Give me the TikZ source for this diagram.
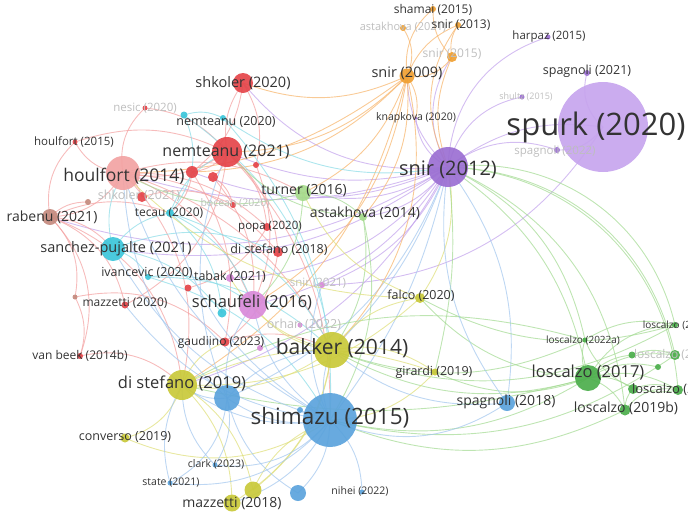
\documentclass[tikz,border=0pt]{standalone}
\usepackage{fontspec}
\setmainfont{Open Sans}

\definecolor{labgray}{HTML}{333333}
\definecolor{faintgray}{HTML}{BEBEBE}
\definecolor{cred}{HTML}{E5454A}
\definecolor{cpink}{HTML}{F2A3A3}
\definecolor{cbrown}{HTML}{C48A7E}
\definecolor{ccyan}{HTML}{3CC6DA}
\definecolor{cpurple}{HTML}{9B6FD2}
\definecolor{clilac}{HTML}{C7A5EE}
\definecolor{corchid}{HTML}{D98AD9}
\definecolor{corange}{HTML}{F0A032}
\definecolor{cgreen}{HTML}{4CAE4C}
\definecolor{clgreen}{HTML}{A6DB8C}
\definecolor{cyellow}{HTML}{C9C93A}
\definecolor{cblue}{HTML}{5BA3DC}
% edge colours
\definecolor{ered}{HTML}{F3A0A0}
\definecolor{ecyan}{HTML}{8ADBE6}
\definecolor{epurple}{HTML}{C2A2EC}
\definecolor{eorange}{HTML}{F7B46A}
\definecolor{egreen}{HTML}{A3DA92}
\definecolor{eyellow}{HTML}{DEDE78}
\definecolor{eblue}{HTML}{A2C6EE}

\begin{document}
\begin{tikzpicture}[x=1pt, y=-1pt,
    edge/.style={draw=#1, line width=0.9pt, opacity=0.7},
    lab/.style={text=labgray, inner sep=0pt},
    faint/.style={text=faintgray, inner sep=0pt},
    fs/.style={font=\fontsize{#1}{#1}\selectfont}]

    \useasboundingbox (0,0) rectangle (688,515);
    \clip (0,0) rectangle (688,515);

    % Points
    \foreach \n/\x/\y in {
        shamai/433/9, astak21/403/28, snir13/458/25, snir15/452/57,
        snir09/407/76, harpaz/548/37, spag21/587/73, shultz/522/97,
        knap/416/118, spurk/603/127, spag22/557/150, snir12/448/167,
        shk20/243/83, nesic/145/108, cyanA/184/115, nem20/223/118,
        houl15/75/142, nem21/227/152, redA/192/172, redB/213/177,
        redC/256/165, houl14/123/173, shk21/142/197, brownA/88/202,
        turner/303/193, bocean/233/205, rabenu/50/217, tecau/170/213,
        astak14/363/217, popa/267/227, sanchez/113/249, distef18/278/252,
        ivan/148/277, tabak/230/278, snir21/322/285, redD/188/288,
        greyA/75/297, maz20/125/305, schauf/253/305, cyanB/222/313,
        orhan/300/325, gaud/225/342, pinkA/260/348, bakker/332/350,
        vanbeek/80/356, distef19/182/385, blueA/227/398, shimazu/330/420,
        blueB/300/410, converso/125/438, clark/215/465, state/170/483,
        yelA/253/490, maz18/232/503, blueC/298/493, nihei/362/492,
        girardi/435/372, losc17/588/378, spag18/507/403, losc19b/625/410,
        losc22a/585/340, losc22b/675/325, losc18/675/355, losc19a/678/390,
        dotGa/633/389, dotGb/658/367, dotGc/632/355, falco/420/298}
        \coordinate (\n) at (\x,\y);

    % Links
    \foreach \a/\b/\c/\t in {
        snir12/spurk/epurple/22, snir12/spag22/epurple/28, snir12/shultz/epurple/32,
        snir12/harpaz/epurple/35, spurk/spag21/epurple/32, spurk/spag22/epurple/28,
        snir12/snir09/epurple/22, snir12/knap/epurple/28, snir12/snir15/epurple/32,
        snir12/astak14/epurple/22, snir12/turner/epurple/22, snir12/nem21/epurple/18,
        snir12/houl14/epurple/18, snir12/redA/epurple/22, snir12/rabenu/epurple/25,
        snir12/schauf/epurple/22, snir12/tabak/epurple/25, snir12/snir21/epurple/22,
        snir12/sanchez/epurple/22, snir12/shk20/epurple/28, spurk/snir21/epurple/28,
        snir12/bakker/eblue/12, snir12/shimazu/eblue/12, snir12/spag18/eblue/22,
        snir12/falco/eyellow/22, snir12/distef19/epurple/22, snir12/blueA/eblue/22,
        snir12/losc17/egreen/22, snir12/losc19b/egreen/30, snir12/losc22b/egreen/42,
        snir12/losc18/egreen/38, snir12/losc22a/egreen/26, snir12/losc19a/egreen/42,
        snir12/girardi/egreen/10,
        snir09/shamai/eorange/28, snir09/astak21/eorange/-28, snir09/snir13/eorange/22,
        snir09/snir15/eorange/-32, snir15/snir13/eorange/22, snir15/snir12/eorange/-22,
        snir13/snir12/eorange/-32, shamai/snir15/eorange/-22, snir09/nem21/eorange/22,
        snir09/houl14/eorange/18, snir09/shk20/eorange/22, snir09/redA/eorange/22,
        snir09/bakker/eorange/28, snir09/schauf/eorange/25, snir09/turner/eorange/22,
        snir09/distef19/eorange/22, snir09/knap/eorange/22, snir09/astak14/eorange/22,
        nem21/shk20/ered/22, nem21/houl14/ered/22, nem21/redA/ered/22,
        nem21/redB/ered/22, houl14/rabenu/ered/28, houl14/houl15/ered/28,
        houl14/nesic/ered/28, houl14/shk21/ered/22, shk20/redA/ered/22,
        nesic/nem21/ered/22, rabenu/brownA/ered/22, rabenu/greyA/ered/28,
        rabenu/vanbeek/ered/32, rabenu/maz20/ered/28, rabenu/sanchez/ered/22,
        rabenu/houl15/ered/28, greyA/vanbeek/ered/22, greyA/gaud/ered/28,
        houl14/popa/ered/22, houl14/distef18/ered/22, nem21/popa/ered/22,
        nem21/distef18/ered/22, redA/tecau/ered/22, redB/bocean/ered/22,
        distef18/gaud/ered/22, redC/schauf/ered/22, nem21/maz20/ered/28,
        shk21/bocean/ered/22, houl14/turner/ered/22, houl14/bakker/ered/22,
        houl14/distef19/ered/28, nem21/shimazu/ered/22, popa/redD/ered/22,
        gaud/bakker/ered/22, redA/gaud/ered/22, houl14/schauf/ered/22,
        vanbeek/distef19/ered/28, shk20/redC/ered/22, rabenu/distef19/ered/32,
        houl15/nem21/ered/22, redB/schauf/ered/22, rabenu/tecau/ered/22,
        sanchez/tecau/ecyan/22, sanchez/ivan/ecyan/22, tecau/cyanB/ecyan/22,
        cyanA/nem20/ecyan/22, tecau/nem21/ecyan/22, sanchez/cyanB/ecyan/22,
        ivan/schauf/ecyan/22, tecau/schauf/ecyan/22, sanchez/houl14/ecyan/22,
        cyanA/bakker/ecyan/22, nem20/shimazu/ecyan/22, tecau/bakker/ecyan/22,
        ivan/bakker/ecyan/22, sanchez/distef18/ecyan/22, nem20/snir12/ecyan/-22,
        cyanA/tecau/ecyan/32, ivan/shimazu/ecyan/22,
        losc17/losc22a/egreen/22, losc17/losc19b/egreen/22, losc17/losc22b/egreen/28,
        losc17/losc18/egreen/22, losc17/losc19a/egreen/22, losc17/dotGa/egreen/22,
        losc17/dotGb/egreen/22, losc17/dotGc/egreen/22, losc22a/losc22b/egreen/22,
        dotGa/losc19a/egreen/22, dotGc/losc18/egreen/22, losc19b/dotGa/egreen/22,
        losc19b/losc19a/egreen/32, losc22a/losc19a/egreen/-40,
        losc17/bakker/egreen/22, losc17/falco/egreen/22, losc17/shimazu/egreen/22,
        losc17/distef19/egreen/14, losc17/girardi/egreen/22, losc22a/bakker/egreen/22,
        losc22b/bakker/egreen/25, losc18/shimazu/egreen/24, losc19b/shimazu/egreen/24,
        turner/astak14/egreen/22, astak14/bakker/egreen/22, turner/schauf/egreen/22,
        astak14/nem21/egreen/22, turner/houl14/egreen/22, losc22b/falco/egreen/22,
        losc22a/distef19/egreen/-22, astak14/shimazu/egreen/22,
        bakker/distef19/eyellow/22, bakker/falco/eyellow/22, bakker/girardi/eyellow/22,
        bakker/schauf/eyellow/22, distef19/converso/eyellow/28, distef19/maz18/eyellow/22,
        distef19/yelA/eyellow/22, bakker/yelA/eyellow/22, girardi/shimazu/eyellow/22,
        falco/distef19/eyellow/22, bakker/maz18/eyellow/25, converso/shimazu/eyellow/-28,
        distef19/gaud/eyellow/22, falco/houl14/eyellow/22, girardi/distef19/eyellow/-22,
        bakker/tabak/eyellow/22, falco/turner/eyellow/22, yelA/shimazu/eyellow/22,
        shimazu/blueA/eblue/22, shimazu/blueB/eblue/22, shimazu/clark/eblue/28,
        shimazu/state/eblue/28, shimazu/blueC/eblue/22, shimazu/nihei/eblue/22,
        shimazu/spag18/eblue/-28, shimazu/bakker/eblue/22, shimazu/distef19/eblue/22,
        shimazu/schauf/eblue/22, shimazu/houl14/eblue/22, shimazu/maz18/eblue/22,
        blueA/clark/eblue/22, blueA/state/eblue/28, blueA/distef19/eblue/22,
        blueA/bakker/eblue/22, blueA/schauf/eblue/22, blueA/nem21/eblue/22,
        spag18/bakker/eblue/22, shimazu/sanchez/eblue/22, shimazu/tecau/eblue/22,
        blueA/houl14/eblue/22, state/distef19/eblue/22, clark/distef19/eblue/22,
        shimazu/maz20/eblue/22, spag18/snir12/eblue/22, blueC/blueA/eblue/22,
        shimazu/snir21/eblue/22}
        \draw[edge=\c] (\a) to[bend left=\t] (\b);

    % Items
    \foreach \n/\r/\c in {
        shamai/3/corange, astak21/3/corange, snir13/3/corange, snir15/5/corange,
        snir09/7.5/corange, harpaz/2.5/cpurple, spag21/3/cpurple, shultz/2.5/cpurple,
        knap/1.5/cpurple, spurk/45/clilac, spag22/3/cpurple, snir12/20/cpurple,
        shk20/10/cred, nesic/2.5/cred, cyanA/3.5/ccyan, nem20/3/ccyan,
        houl15/2.5/cred, nem21/15/cred, redA/6/cred, redB/5/cred,
        redC/3/cred, houl14/17/cpink, shk21/5/cred, brownA/3/cbrown,
        turner/8/clgreen, bocean/3/cred, rabenu/8/cbrown, tecau/4/ccyan,
        astak14/4/clgreen, popa/4/cred, sanchez/12/ccyan, distef18/5/cred,
        ivan/3/ccyan, tabak/4/corchid, snir21/3/corchid, redD/3.5/cred,
        greyA/2.5/cbrown, maz20/3.5/cred, schauf/14/corchid, cyanB/4.5/ccyan,
        orhan/2.5/corchid, gaud/4.5/cred, pinkA/3/corchid, bakker/18/cyellow,
        vanbeek/3/cred, distef19/15/cyellow, blueA/13/cblue, shimazu/27/cblue,
        blueB/3/cblue, converso/4.5/cyellow, clark/2.5/cblue, state/2.5/cblue,
        yelA/8.5/cyellow, maz18/8.5/cyellow, blueC/8/cblue, nihei/2.5/cblue,
        girardi/3.5/cyellow, losc17/13/cgreen, spag18/8/cblue, losc19b/5.5/cgreen,
        losc22a/2.5/cgreen, losc22b/3/cgreen, losc18/5/cgreen, losc19a/5/cgreen,
        dotGa/5/cgreen, dotGb/3/cgreen, dotGc/3.5/cgreen, falco/5/cyellow}
        \fill[\c, opacity=0.92] (\n) circle (\r);

    % Labels
    \node[lab, fs=12]   (shamai-l)   at (433,10)  {shamai (2015)};
    \node[faint, fs=11] (astak21-l)  at (403,27)  {astakhova (2021)};
    \node[lab, fs=12]   (snir13-l)   at (461,25)  {snir (2013)};
    \node[faint, fs=12] (snir15-l)   at (452,54)  {snir (2015)};
    \node[lab, fs=14.5] (snir09-l)   at (407,73)  {snir (2009)};
    \node[lab, fs=11.5] (harpaz-l)   at (549,37)  {harpaz (2015)};
    \node[lab, fs=12.5] (spag21-l)   at (587,71)  {spagnoli (2021)};
    \node[faint, fs=9]  (shultz-l)   at (526,97)  {shultz (2015)};
    \node[lab, fs=10.5] (knap-l)     at (416,118) {knapkova (2020)};
    \node[lab, fs=31]   (spurk-l)    at (596,127) {spurk (2020)};
    \node[faint, fs=11.5] (spag22-l) at (555,152) {spagnoli (2022)};
    \node[lab, fs=20]   (snir12-l)   at (448,170) {snir (2012)};

    \node[lab, fs=14.5] (shk20-l)    at (243,83)  {shkoler (2020)};
    \node[faint, fs=11.5] (nesic-l)  at (145,108) {nesic (2020)};
    \node[lab, fs=12.5] (nem20-l)    at (226,122) {nemteanu (2020)};
    \node[lab, fs=11.5] (houl15-l)   at (74,142)  {houlfort (2015)};
    \node[lab, fs=16]   (nem21-l)    at (226,152) {nemteanu (2021)};
    \node[lab, fs=17.5] (houl14-l)   at (124,176) {houlfort (2014)};
    \node[faint, fs=12.5] (shk21-l)  at (139,196) {shkoler (2021)};
    \node[lab, fs=14]   (turner-l)   at (304,191) {turner (2016)};
    \node[faint, fs=10.5] (bocean-l) at (235,203) {bocean (2020)};
    \node[lab, fs=14]   (rabenu-l)   at (52,217)  {rabenu (2021)};
    \node[lab, fs=12]   (tecau-l)    at (169,213) {tecau (2020)};
    \node[lab, fs=14]   (astak14-l)  at (365,213) {astakhova (2014)};
    \node[lab, fs=11.5] (popa-l)     at (270,227) {popa (2020)};
    \node[lab, fs=14.5] (sanchez-l)  at (116,249) {sanchez-pujalte (2021)};
    \node[lab, fs=12.5] (distef18-l) at (279,250) {di stefano (2018)};
    \node[lab, fs=12.5] (ivan-l)     at (147,273) {ivancevic (2020)};
    \node[lab, fs=12.5] (tabak-l)    at (230,277) {tabak (2021)};
    \node[faint, fs=11.5] (snir21-l) at (318,283) {snir (2021)};
    \node[lab, fs=12]   (maz20-l)    at (125,303) {mazzetti (2020)};
    \node[lab, fs=16.5] (schauf-l)   at (252,302) {schaufeli (2016)};
    \node[faint, fs=12.5] (orhan-l)  at (304,325) {orhan (2022)};
    \node[lab, fs=12]   (gaud-l)     at (221,342) {gaudiino (2023)};
    \node[lab, fs=21]   (bakker-l)   at (342,348) {bakker (2014)};
    \node[lab, fs=12]   (vanbeek-l)  at (80,356)  {van beek (2014b)};

    \node[lab, fs=16.5] (distef19-l) at (182,383) {di stefano (2019)};
    \node[lab, fs=22.5] (shimazu-l)  at (330,418) {shimazu (2015)};
    \node[lab, fs=12.5] (converso-l) at (125,437) {converso (2019)};
    \node[lab, fs=10.5] (clark-l)    at (216,464) {clark (2023)};
    \node[lab, fs=10.5] (state-l)    at (171,483) {state (2021)};
    \node[lab, fs=14]   (maz18-l)    at (232,503) {mazzetti (2018)};
    \node[lab, fs=10.5] (nihei-l)    at (360,491) {nihei (2022)};
    \node[lab, fs=12.5] (girardi-l)  at (434,372) {girardi (2019)};
    \node[lab, fs=12.5] (falco-l)    at (421,296) {falco (2020)};
    \node[lab, fs=16.5] (losc17-l)   at (588,373) {loscalzo (2017)};
    \node[lab, fs=14]   (spag18-l)   at (506,402) {spagnoli (2018)};
    \node[lab, fs=14]   (losc19b-l)  at (626,408) {loscalzo (2019b)};
    \node[lab, fs=10]   (losc22a-l)  at (583,340) {loscalzo (2022a)};
    \node[lab, fs=10]   (losc22b-l)  at (680,325) {loscalzo (2022b)};
    \node[faint, fs=12] (losc18-l)   at (675,355) {loscalzo (2018)};
    \node[lab, fs=13]   (losc19a-l)  at (680,390) {loscalzo (2019a)};

\end{tikzpicture}
\end{document}
